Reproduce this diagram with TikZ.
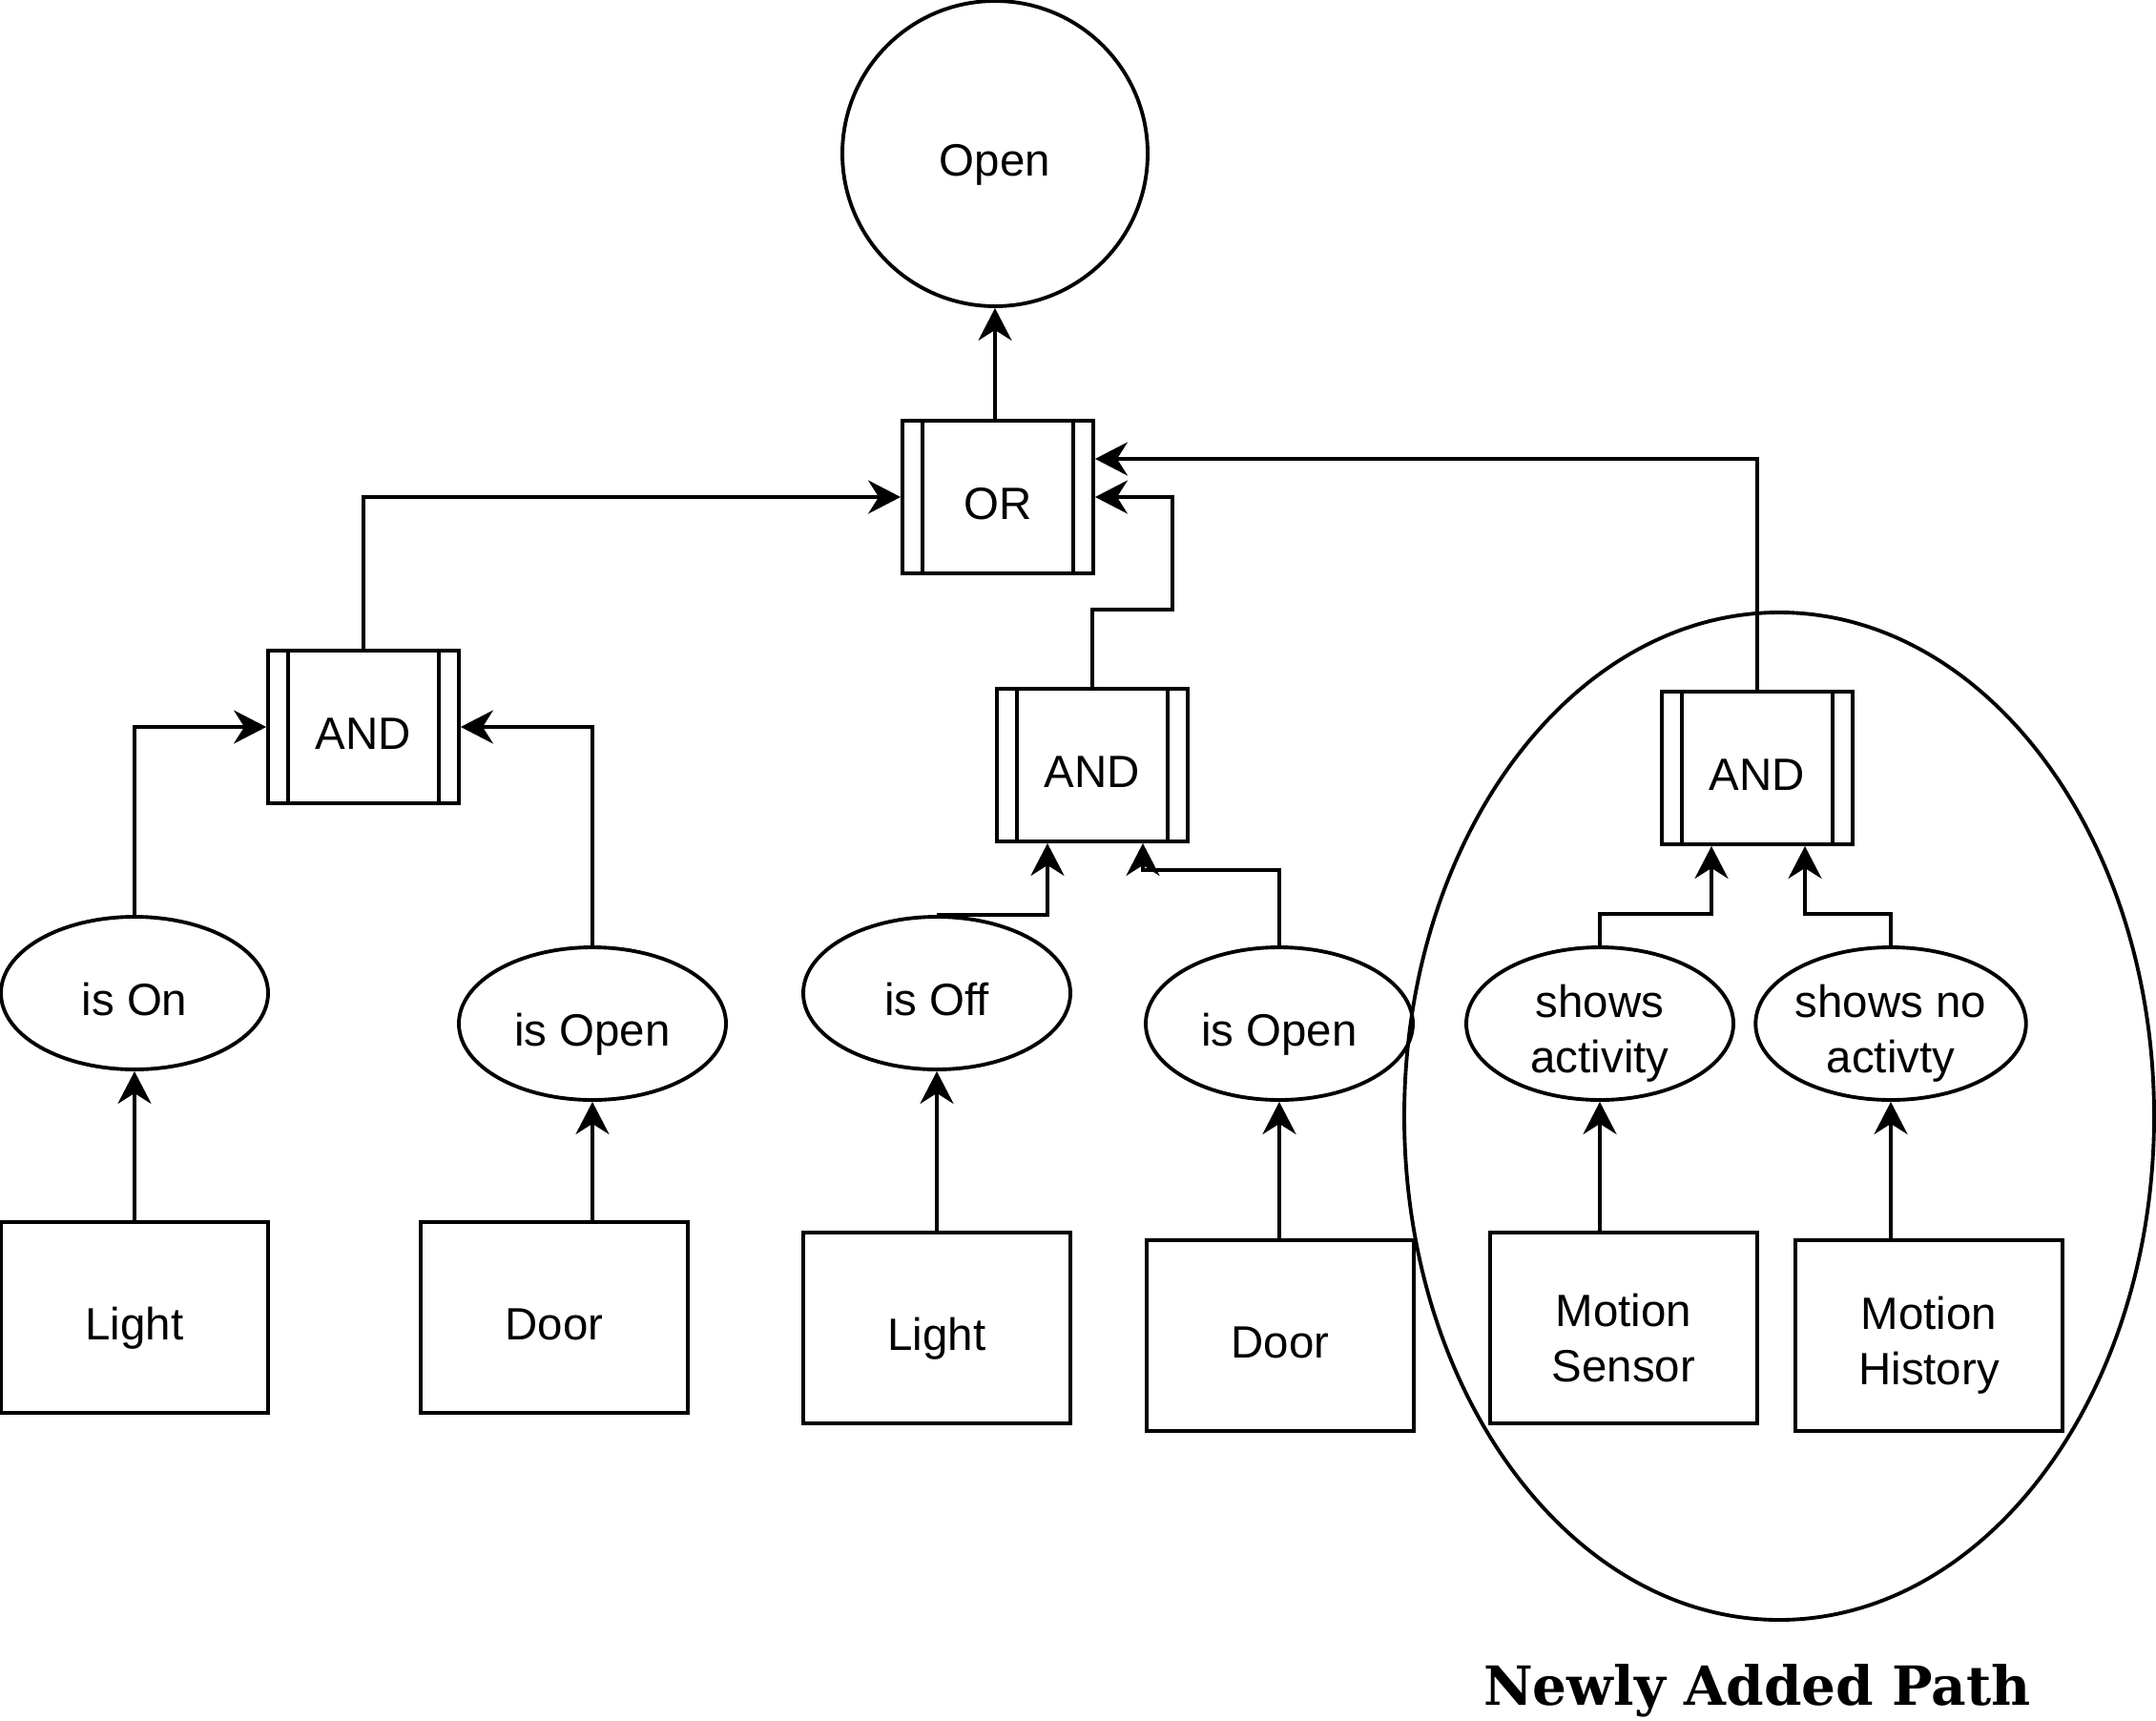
\documentclass[tikz,border=0pt]{standalone}
\usepackage{fontspec}
\setmainfont{Liberation Sans}
\newfontfamily\labelfont{DejaVu Serif}
\usetikzlibrary{arrows.meta,shapes.geometric}

\begin{document}
\begin{tikzpicture}[
    line width=1.1pt,
    every node/.style={font=\fontsize{13.5}{16.5}\selectfont, align=center, inner sep=0pt,
        text height=0.46cm, text depth=0cm},
    twoline/.style={text height=1.13cm, text depth={}, inner ysep=-0.2cm},
    arr/.style={-{Stealth[length=3.4mm, width=3.5mm, inset=1.1mm]}},
    gate/.style={draw, rectangle, minimum width=2.0cm, minimum height=1.6cm,
        path picture={
            \draw ([xshift=0.21cm]path picture bounding box.north west) -- ([xshift=0.21cm]path picture bounding box.south west);
            \draw ([xshift=-0.21cm]path picture bounding box.north east) -- ([xshift=-0.21cm]path picture bounding box.south east);
        }},
    state/.style={draw, ellipse, minimum width=2.8cm, minimum height=1.6cm},
    device/.style={draw, rectangle, minimum width=2.8cm, minimum height=2.0cm}
]
\useasboundingbox (0,0) rectangle (22.6,-18.04);

% -----------------------------
% Top event and OR gate
% -----------------------------
\node[draw, circle, minimum size=3.2cm] (open) at (10.43,-1.61) {Open};
\node[gate] (or) at (10.46,-5.21) {OR};

% -----------------------------
% AND gates
% -----------------------------
\node[gate] (andL) at (3.81,-7.62) {AND};
\node[gate] (andM) at (11.45,-8.02) {AND};
\node[gate] (andR) at (18.42,-8.05) {AND};

% -----------------------------
% States
% -----------------------------
\node[state] (isOn)     at (1.41,-10.41)  {is On};
\node[state] (isOpenL)  at (6.21,-10.73)  {is Open};
\node[state] (isOff)    at (9.82,-10.41)  {is Off};
\node[state] (isOpenM)  at (13.41,-10.73) {is Open};
\node[state, twoline] (showsAct) at (16.77,-10.73) {shows\\activity};
\node[state, twoline] (showsNo)  at (19.82,-10.73) {shows no\\activty};

% -----------------------------
% Devices
% -----------------------------
\node[device] (lightL)  at (1.41,-13.81)  {Light};
\node[device] (doorL)   at (5.81,-13.81)  {Door};
\node[device] (lightM)  at (9.82,-13.92)  {Light};
\node[device] (doorM)   at (13.42,-14.00) {Door};
\node[device, twoline] (sensor)  at (17.02,-13.92) {Motion\\Sensor};
\node[device, twoline] (history) at (20.22,-14.00) {Motion\\History};

% new path marker
\node[draw, ellipse, minimum width=7.86cm, minimum height=10.56cm] (newpath) at (18.65,-11.70) {};
\node[font=\labelfont\bfseries\fontsize{16.1}{20}\selectfont, anchor=base, text height={}] (newlabel) at (18.42,-17.87) {Newly Added Path};

% -----------------------------
% Connectors
% -----------------------------
\foreach \b/\s in {lightL/isOn, doorL/isOpenL, lightM/isOff, doorM/isOpenM, sensor/showsAct, history/showsNo} {
    \draw[arr] (\b.north -| \s.south) -- (\s.south);
}

\draw[arr] (isOn.north) |- (andL.west);
\draw[arr] (isOpenL.north) |- (andL.east);

\draw[arr] (isOff.north) -| ([xshift=-0.47cm]andM.south);
\draw[arr] (isOpenM.north) -- ++(0,0.79) -| ([xshift=0.53cm]andM.south);

\draw[arr] (showsAct.north) -- ++(0,0.33) -| ([xshift=-0.48cm]andR.south);
\draw[arr] (showsNo.north) -- ++(0,0.33) -| ([xshift=0.50cm]andR.south);

\draw[arr] (andL.north) |- (or.west);
\draw[arr] (andM.north) -- ++(0,0.81) -| ([xshift=0.81cm]or.east) -- (or.east);
\draw[arr] (andR.north) |- ([yshift=0.4cm]or.east);

\draw[arr] (or.north -| open.south) -- (open.south);

\end{tikzpicture}
\end{document}
